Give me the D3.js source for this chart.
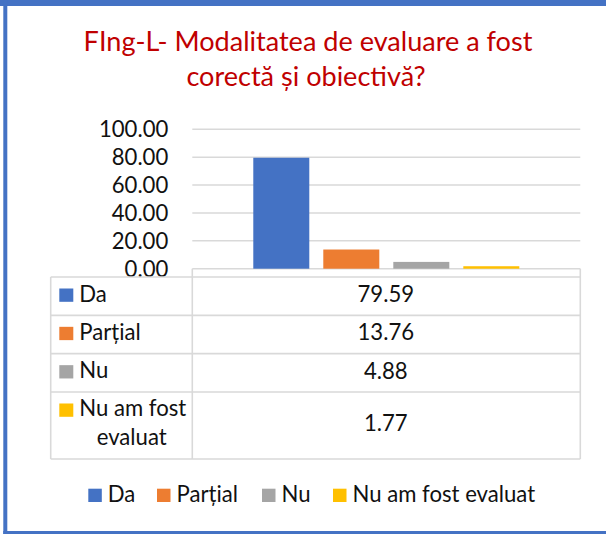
<!DOCTYPE html>
<html><head><meta charset="utf-8">
<script src="https://cdn.jsdelivr.net/npm/d3@7"></script>
<style>html,body{margin:0;padding:0;background:#fff;overflow:hidden}</style>
</head><body>
<svg id="c" width="606" height="534"></svg>
<script>
// ---- data ----
const titleLines = ["FIng-L- Modalitatea de evaluare a fost", "corectă și obiectivă?"];
const category = ["FIng-L"];
const seriesNames = ["Da", "Parțial", "Nu", "Nu am fost evaluat"];
const tableLabels = [["Da"], ["Parțial"], ["Nu"], ["Nu am fost", "evaluat"]];
const seriesValues = [79.59, 13.76, 4.88, 1.77];
const valueLabels = ["79.59", "13.76", "4.88", "1.77"];
const yTicks = [0, 20, 40, 60, 80, 100];
const palette = ["#4472C4", "#ED7D31", "#A5A5A5", "#FFC000"];

// ---- layout ----
const FONT = "Lato, 'Noto Sans', sans-serif";
const svg = d3.select("#c");
const plot = {left: 192.3, right: 580.3, top: 129.3, bottom: 268.7};
const tbl = {left: 50.7, mid: 192.3, right: 580.3, top: 277, rowH: 38.33, lineH: 29};
const gridCol = "#D9D9D9", txtCol = "#111";

svg.append("rect").attr("width", 606).attr("height", 534).attr("fill", "#fff");

// helper to compute font size to fit a width
function fitSize(str, target, base) {
  const t = svg.append("text").attr("font-family", FONT).attr("font-size", base).text(str);
  const w = t.node().getComputedTextLength();
  t.remove();
  return base * target / w;
}
const fs = fitSize("Nu am fost evaluat", 182.7, 20);
const tfs = fitSize(titleLines[0], 449, 26);

// title
svg.append("g").selectAll("text").data(titleLines).join("text")
  .attr("x", (d, i) => i === 0 ? 308 : 306)
  .attr("y", (d, i) => i === 0 ? 50.7 : 86)
  .attr("text-anchor", "middle")
  .attr("font-family", FONT).attr("font-size", tfs).attr("fill", "#C00000")
  .text(d => d);

// scales
const y = d3.scaleLinear().domain([0, 100]).range([plot.bottom, plot.top]);
const x0 = d3.scaleBand().domain(category).range([plot.left, plot.right]).paddingInner(0.1865).paddingOuter(0.1865);
const x1 = d3.scaleBand().domain(seriesNames).range([0, x0.bandwidth()]).paddingInner(0.2).paddingOuter(0);

// gridlines
svg.append("g").selectAll("line").data(yTicks).join("line")
  .attr("x1", plot.left).attr("x2", plot.right)
  .attr("y1", d => y(d)).attr("y2", d => y(d))
  .attr("stroke", gridCol).attr("stroke-width", 1.4);

// y axis labels
const yAxis = d3.axisLeft(y).tickValues(yTicks).tickFormat(d3.format(".2f")).tickSize(0).tickPadding(0);
const ya = svg.append("g").attr("transform", `translate(168.3,0)`).call(yAxis);
ya.select(".domain").remove();
ya.selectAll("text").attr("font-family", FONT).attr("font-size", fs).attr("fill", txtCol)
  .attr("dy", null).attr("y", 7.3).attr("x", 0);

// bars
svg.append("g").selectAll("rect").data(seriesValues).join("rect")
  .attr("x", (d, i) => x0(category[0]) + x1(seriesNames[i]))
  .attr("width", x1.bandwidth())
  .attr("y", d => y(d))
  .attr("height", d => y(0) - y(d))
  .attr("fill", (d, i) => palette[i]);

// table
const rowHeights = tableLabels.map(l => tbl.rowH + (l.length - 1) * (67 - tbl.rowH));
const rowTops = [];
rowHeights.reduce((acc, h) => { rowTops.push(acc); return acc + h; }, tbl.top);
const tblBottom = rowTops[rowTops.length - 1] + rowHeights[rowHeights.length - 1];

const tg = svg.append("g").attr("stroke", gridCol).attr("stroke-width", 1.6);
// horizontal lines
tg.selectAll("line.h").data(rowTops.concat([tblBottom])).join("line").attr("class", "h")
  .attr("x1", tbl.left).attr("x2", tbl.right).attr("y1", d => d).attr("y2", d => d);
tg.append("line").attr("x1", tbl.left).attr("x2", tbl.left).attr("y1", tbl.top).attr("y2", tblBottom);
tg.append("line").attr("x1", tbl.mid).attr("x2", tbl.mid).attr("y1", plot.bottom).attr("y2", tblBottom);
tg.append("line").attr("x1", tbl.right).attr("x2", tbl.right).attr("y1", plot.bottom).attr("y2", tblBottom);

const rows = svg.append("g").selectAll("g").data(tableLabels).join("g");
rows.append("rect")
  .attr("x", 59.3).attr("y", (d, i) => rowTops[i] + 11.5)
  .attr("width", 14).attr("height", 13.3)
  .attr("fill", (d, i) => palette[i]);
rows.each(function (lines, i) {
  const g = d3.select(this);
  g.selectAll("text.lab").data(lines).join("text").attr("class", "lab")
    .attr("x", (d, j) => j === 0 ? 79.3 : 131.7)
    .attr("text-anchor", (d, j) => j === 0 ? "start" : "middle")
    .attr("y", (d, j) => rowTops[i] + 24.5 + j * tbl.lineH)
    .attr("font-family", FONT).attr("font-size", fs).attr("fill", txtCol)
    .text(d => d);
  g.append("text")
    .attr("x", (tbl.mid + tbl.right) / 2 - 0.5)
    .attr("y", rowTops[i] + rowHeights[i] / 2 + 6)
    .attr("text-anchor", "middle")
    .attr("font-family", FONT).attr("font-size", fs).attr("fill", txtCol)
    .text(valueLabels[i]);
});

// legend
const legX = [88.3, 157, 262, 333];
const lg = svg.append("g").selectAll("g").data(seriesNames).join("g")
  .attr("transform", (d, i) => `translate(${legX[i]},0)`);
lg.append("rect").attr("x", 0).attr("y", 488.7).attr("width", 13.5).attr("height", 13.3)
  .attr("fill", (d, i) => palette[i]);
lg.append("text").attr("x", 19.5).attr("y", 502.3)
  .attr("font-family", FONT).attr("font-size", fs).attr("fill", txtCol).text(d => d);

// outer frame (blue)
const frame = svg.append("g").attr("fill", "#4472C4");
frame.append("rect").attr("x", 0).attr("y", 0).attr("width", 606).attr("height", 6);
frame.append("rect").attr("x", 3.3).attr("y", 0).attr("width", 4).attr("height", 534);
frame.append("rect").attr("x", 3.3).attr("y", 531).attr("width", 603).attr("height", 3);
</script>
</body></html>
